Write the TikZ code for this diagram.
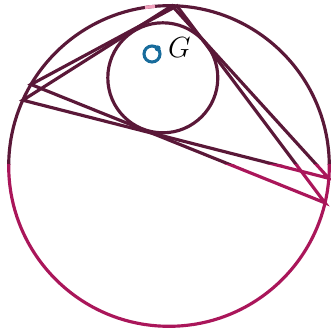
\documentclass[tikz,border=0pt]{standalone}
\usepackage{tikz}
\usetikzlibrary{positioning}
\definecolor{plumdark}{RGB}{90,24,56}
\definecolor{rosered}{RGB}{170,22,90}
\definecolor{gblue}{RGB}{24,108,156}
\definecolor{pinkmark}{RGB}{242,160,188}

\begin{document}
\begin{tikzpicture}[
    x=0.3mm, y=0.3mm,
    curve/.style={line width=2.7pt},
    gmark/.style={gblue, line width=2.6pt},
    glabel/.style={font=\fontsize{23}{25}\selectfont, inner sep=0pt}
]
    \useasboundingbox (0,0) rectangle (331,331);

    % circum and in circle centres
    \coordinate (O) at (169,165);
    \coordinate (I) at (162.8,253.2);

    % the two triangles
    \coordinate (T1) at ([shift={(87.14:160.3)}]O);
    \coordinate (B1) at ([shift={(149.43:160.3)}]O);
    \coordinate (C2) at ([shift={(-13.30:160.3)}]O);
    \coordinate (T2) at ([shift={(88.93:160.3)}]O);
    \coordinate (B2) at ([shift={(155.77:160.3)}]O);
    \coordinate (C1) at ([shift={(-4.40:160.3)}]O);

    \foreach \clr/\ylo/\yhi in {plumdark/166/331, rosered/0/166} {
        \begin{scope}
            \clip (0,\ylo) rectangle (331,\yhi);
            \draw[curve, \clr] (O) circle[radius=160.3];
            \draw[curve, \clr] (I) circle[radius=55];
            \draw[curve, \clr] (T1) -- (B1) -- (C2) -- cycle;
            \draw[curve, \clr] (T2) -- (B2) -- (C1) -- cycle;
        \end{scope}
    }

    \draw[pinkmark, line width=2.8pt] ([shift={(95:160.3)}]O) arc[start angle=95, end angle=98.6, radius=160.3];

    % point G
    \coordinate (gc) at (152,277);
    \draw[gmark] (gc) circle[radius=8];
    \fill[gblue] ([shift={(45:8)}]gc) circle[radius=3];
    \node[glabel] (G) at (179.5,283.5) {$G$};
\end{tikzpicture}
\end{document}
